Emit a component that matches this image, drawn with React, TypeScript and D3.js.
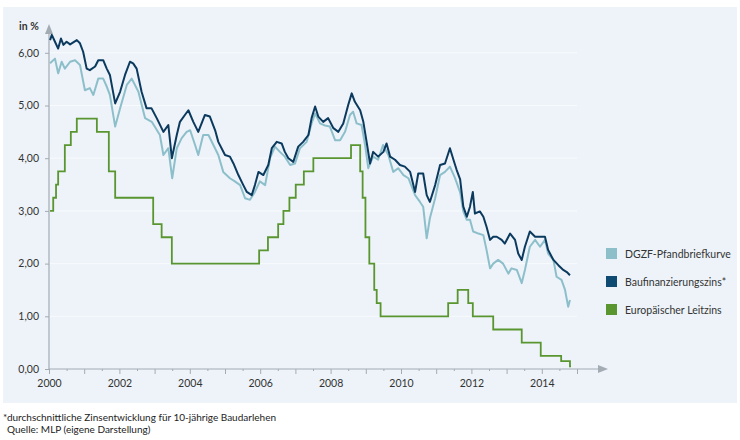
import { useRef, useEffect } from "react";
import * as d3 from "d3";

// Baufinanzierungszins (dark line)
const baufiYears = [
  2000.03, 2000.08, 2000.17, 2000.26, 2000.34, 2000.41, 2000.5, 2000.6, 2000.79, 2000.88, 2000.97,
  2001.07, 2001.16, 2001.31, 2001.4, 2001.54, 2001.64, 2001.73, 2001.88, 2002.02, 2002.16, 2002.3,
  2002.39, 2002.49, 2002.63, 2002.77, 2002.91, 2003.06, 2003.25, 2003.39, 2003.49, 2003.63, 2003.72,
  2003.86, 2003.96, 2004.1, 2004.24, 2004.43, 2004.57, 2004.72, 2004.81, 2005.0, 2005.14, 2005.24,
  2005.38, 2005.52, 2005.62, 2005.76, 2005.85, 2005.95, 2006.09, 2006.23, 2006.33, 2006.47, 2006.61,
  2006.7, 2006.8, 2006.94, 2007.08, 2007.22, 2007.37, 2007.46, 2007.56, 2007.65, 2007.79, 2007.93,
  2008.08, 2008.22, 2008.36, 2008.5, 2008.6, 2008.69, 2008.84, 2008.93, 2009.03, 2009.12, 2009.21,
  2009.35, 2009.5, 2009.59, 2009.69, 2009.83, 2009.97, 2010.11, 2010.26, 2010.4, 2010.49, 2010.63,
  2010.73, 2010.82, 2010.97, 2011.11, 2011.25, 2011.39, 2011.49, 2011.58, 2011.68, 2011.77, 2011.87,
  2011.96, 2012.04, 2012.1, 2012.24, 2012.34, 2012.43, 2012.53, 2012.62, 2012.72, 2012.86, 2012.95,
  2013.1, 2013.24, 2013.33, 2013.43, 2013.52, 2013.66, 2013.81, 2013.95, 2014.09, 2014.18, 2014.33,
  2014.47, 2014.61, 2014.71, 2014.8,
];
const baufiRates = [
  6.24, 6.34, 6.21, 6.08, 6.27, 6.15, 6.21, 6.16, 6.24, 6.18, 6.02,
  5.7, 5.67, 5.74, 5.86, 5.86, 5.7, 5.58, 5.04, 5.26, 5.58, 5.83,
  5.8, 5.7, 5.26, 4.95, 4.95, 4.76, 4.5, 4.63, 4.0, 4.44, 4.69,
  4.82, 4.91, 4.69, 4.5, 4.82, 4.79, 4.53, 4.31, 4.06, 4.03, 3.9,
  3.68, 3.49, 3.36, 3.3, 3.49, 3.74, 3.68, 3.87, 4.19, 4.31, 4.28,
  4.12, 4.0, 3.93, 4.22, 4.31, 4.44, 4.76, 4.98, 4.79, 4.69, 4.76,
  4.57, 4.5, 4.66, 5.01, 5.23, 5.07, 4.91, 4.69, 4.28, 3.9, 4.12,
  4.03, 4.12, 4.28, 4.03, 3.97, 3.87, 3.84, 3.74, 3.36, 3.71, 3.71,
  3.3, 3.17, 3.49, 3.87, 3.9, 4.19, 3.97, 3.78, 3.6, 3.08, 2.89,
  3.08, 3.36, 2.95, 2.99, 2.89, 2.7, 2.45, 2.51, 2.51, 2.45, 2.38,
  2.57, 2.45, 2.19, 2.07, 2.32, 2.61, 2.51, 2.51, 2.51, 2.26, 2.07,
  1.97, 1.88, 1.84, 1.78,
];

// DGZF-Pfandbriefkurve (light line)
const pfandYears = [
  2000.03, 2000.17, 2000.26, 2000.36, 2000.45, 2000.6, 2000.74, 2000.88, 2001.02, 2001.16, 2001.26,
  2001.4, 2001.54, 2001.64, 2001.73, 2001.88, 2002.02, 2002.21, 2002.35, 2002.54, 2002.73, 2002.92,
  2003.15, 2003.25, 2003.39, 2003.5, 2003.63, 2003.77, 2003.91, 2004.01, 2004.15, 2004.24, 2004.38,
  2004.53, 2004.67, 2004.81, 2004.95, 2005.14, 2005.28, 2005.43, 2005.57, 2005.71, 2005.85, 2005.99,
  2006.14, 2006.28, 2006.42, 2006.56, 2006.7, 2006.85, 2006.99, 2007.13, 2007.32, 2007.46, 2007.56,
  2007.7, 2007.84, 2007.98, 2008.13, 2008.27, 2008.41, 2008.55, 2008.64, 2008.74, 2008.88, 2008.98,
  2009.07, 2009.21, 2009.35, 2009.49, 2009.64, 2009.78, 2009.92, 2010.07, 2010.21, 2010.4, 2010.54,
  2010.63, 2010.73, 2010.82, 2010.97, 2011.11, 2011.25, 2011.39, 2011.53, 2011.68, 2011.77, 2011.87,
  2011.96, 2012.05, 2012.2, 2012.34, 2012.43, 2012.53, 2012.62, 2012.76, 2012.9, 2013.05, 2013.14,
  2013.29, 2013.43, 2013.52, 2013.66, 2013.81, 2013.95, 2014.09, 2014.18, 2014.33, 2014.42, 2014.56,
  2014.66, 2014.75, 2014.8,
];
const pfandRates = [
  5.8, 5.89, 5.61, 5.83, 5.7, 5.83, 5.86, 5.77, 5.29, 5.33, 5.2,
  5.51, 5.51, 5.36, 5.2, 4.6, 4.95, 5.39, 5.51, 5.26, 4.76, 4.69,
  4.44, 4.06, 4.19, 3.62, 4.19, 4.38, 4.5, 4.53, 4.25, 4.06, 4.44,
  4.44, 4.25, 4.06, 3.74, 3.62, 3.56, 3.49, 3.24, 3.21, 3.36, 3.56,
  3.49, 4.0, 4.22, 4.12, 4.03, 3.87, 3.9, 4.19, 4.31, 4.66, 4.85,
  4.66, 4.62, 4.6, 4.34, 4.34, 4.5, 4.82, 4.88, 4.66, 4.63, 4.25,
  3.81, 4.03, 3.97, 4.25, 4.06, 3.74, 3.81, 3.68, 3.62, 3.3, 3.17,
  3.08, 2.48, 2.86, 3.24, 3.68, 3.74, 3.84, 3.63, 3.35, 2.99, 2.83,
  2.83, 2.61, 2.57, 2.54, 2.26, 1.91, 2.0, 2.07, 2.0, 1.81, 1.91,
  1.88, 1.63, 1.88, 2.32, 2.45, 2.32, 2.45, 2.19, 2.07, 1.75, 1.69,
  1.5, 1.18, 1.31,
];

// Europäischer Leitzins (step line, value valid from the given year)
const leitzinsYears = [
  2000.03, 2000.12, 2000.2, 2000.26, 2000.45, 2000.62, 2000.79, 2001.36, 2001.7, 2001.88, 2002.96,
  2003.2, 2003.49, 2005.97, 2006.22, 2006.51, 2006.66, 2006.83, 2007.01, 2007.24, 2007.51, 2008.58,
  2008.84, 2008.91, 2008.99, 2009.1, 2009.24, 2009.31, 2009.42, 2011.34, 2011.61, 2011.91, 2012.04,
  2012.62, 2013.43, 2013.97, 2014.55, 2014.8, 2014.83,
];
const leitzinsRates = [
  3.0, 3.25, 3.5, 3.75, 4.25, 4.5, 4.75, 4.5, 3.75, 3.25, 2.75,
  2.5, 2.0, 2.25, 2.5, 2.75, 3.0, 3.25, 3.5, 3.75, 4.0, 4.25,
  3.75, 3.25, 2.5, 2.0, 1.5, 1.25, 1.0, 1.25, 1.5, 1.25, 1.0,
  0.75, 0.5, 0.25, 0.15, 0.05, 0.05,
];

const yTicks = [0, 1, 2, 3, 4, 5, 6];
const xLabelYears = [2000, 2002, 2004, 2006, 2008, 2010, 2012, 2014];
const legendLabels = ["DGZF-Pfandbriefkurve", "Baufinanzierungszins*", "Europäischer Leitzins"];
const legendColors = ["#8dbfcb", "#0e4a72", "#5a9630"];

const FONT = "Lato, 'Open Sans', sans-serif";

function App() {
  const svgRef = useRef<SVGSVGElement>(null);

  useEffect(() => {
    const svg = d3.select(svgRef.current);
    svg.selectAll("*").remove();

    const x = d3.scaleLinear().domain([2000, 2015]).range([49, 577]);
    const y = d3.scaleLinear().domain([0, 6]).range([369, 52.8]);

    // background panel
    svg.append("rect")
      .attr("x", 3).attr("y", 7).attr("width", 734).attr("height", 396)
      .attr("fill", "#edf3f9");

    // faint gridlines
    svg.append("g")
      .selectAll("line")
      .data(yTicks.filter(d => d > 0))
      .enter()
      .append("line")
        .attr("x1", x(2000)).attr("x2", x(2015))
        .attr("y1", d => y(d)).attr("y2", d => y(d))
        .attr("stroke", "#f8fbfd").attr("stroke-width", 1);

    const axisColor = "#a3abb3";

    // y axis
    const yAxis = d3.axisLeft(y)
      .tickValues(yTicks)
      .tickSize(4)
      .tickPadding(6)
      .tickFormat(d => (d as number).toFixed(2).replace(".", ","));
    const gy = svg.append("g").attr("transform", `translate(${x(2000)},0)`).call(yAxis);
    gy.select(".domain").remove();
    gy.selectAll("line").attr("stroke", axisColor);
    gy.selectAll("text")
      .attr("fill", "#333").style("font-family", FONT).style("font-size", "10.5px");

    svg.append("line")
      .attr("x1", x(2000)).attr("x2", x(2000))
      .attr("y1", y(0)).attr("y2", 30)
      .attr("stroke", axisColor).attr("stroke-width", 1.2);
    svg.append("path")
      .attr("d", `M${x(2000) - 4},34 L${x(2000)},24 L${x(2000) + 4},34 Z`)
      .attr("fill", axisColor);

    svg.append("text")
      .attr("x", 19).attr("y", 30)
      .attr("fill", "#333").style("font-family", FONT).style("font-size", "10.5px")
      .style("font-weight", "bold")
      .text("in %");

    // x axis
    const xAxisMinor = d3.axisBottom(x)
      .tickValues(d3.range(2000.5, 2015, 1))
      .tickSize(2)
      .tickFormat(() => "");
    const gxm = svg.append("g").attr("transform", `translate(0,${y(0)})`).call(xAxisMinor);
    gxm.select(".domain").remove();
    gxm.selectAll("line").attr("stroke", axisColor);

    const xAxis = d3.axisBottom(x)
      .tickValues(d3.range(2000, 2016, 1))
      .tickSize(5)
      .tickPadding(6)
      .tickFormat(d => (xLabelYears.includes(d as number) ? String(d) : ""));
    const gx = svg.append("g").attr("transform", `translate(0,${y(0)})`).call(xAxis);
    gx.select(".domain").remove();
    gx.selectAll("line").attr("stroke", axisColor);
    gx.selectAll("text")
      .attr("fill", "#333").style("font-family", FONT).style("font-size", "10.5px");

    svg.append("line")
      .attr("x1", x(2000)).attr("x2", 600)
      .attr("y1", y(0)).attr("y2", y(0))
      .attr("stroke", axisColor).attr("stroke-width", 1.2);
    svg.append("path")
      .attr("d", `M598,${y(0) - 4} L608,${y(0)} L598,${y(0) + 4} Z`)
      .attr("fill", axisColor);

    // series
    const line = d3.line<[number, number]>()
      .x(d => x(d[0]))
      .y(d => y(d[1]));

    const pfand = pfandYears.map((yr, i) => [yr, pfandRates[i]] as [number, number]);
    const baufi = baufiYears.map((yr, i) => [yr, baufiRates[i]] as [number, number]);
    const leitzins = leitzinsYears.map((yr, i) => [yr, leitzinsRates[i]] as [number, number]);

    svg.append("path")
      .attr("d", line(pfand))
      .attr("fill", "none").attr("stroke", legendColors[0])
      .attr("stroke-width", 2).attr("stroke-linejoin", "round");

    svg.append("path")
      .attr("d", line(baufi))
      .attr("fill", "none").attr("stroke", "#0b3a5e")
      .attr("stroke-width", 2).attr("stroke-linejoin", "round");

    svg.append("path")
      .attr("d", line.curve(d3.curveStepAfter)(leitzins))
      .attr("fill", "none").attr("stroke", legendColors[2])
      .attr("stroke-width", 1.8);

    // legend
    const lg = svg.append("g")
      .selectAll("g")
      .data(legendLabels)
      .enter()
      .append("g")
        .attr("transform", (d, i) => `translate(606,${248 + i * 28})`);
    lg.append("rect")
      .attr("width", 11).attr("height", 11)
      .attr("fill", (d, i) => legendColors[i]);
    lg.append("text")
      .attr("x", 19).attr("y", 9.5)
      .attr("fill", "#333").style("font-family", FONT).style("font-size", "10.5px")
      .text(d => d);

    // footnote
    svg.append("text")
      .attr("x", 3).attr("y", 421)
      .attr("fill", "#222").style("font-family", FONT).style("font-size", "10px")
      .text("*durchschnittliche Zinsentwicklung für 10-jährige Baudarlehen");
    svg.append("text")
      .attr("x", 7).attr("y", 433)
      .attr("fill", "#222").style("font-family", FONT).style("font-size", "10px")
      .text("Quelle: MLP (eigene Darstellung)");
  }, []);

  return (
    <div>
      <svg
        ref={svgRef}
        width={740}
        height={440}
        style={{ position: "absolute", left: 0, top: 0, background: "#fff" }}
      />
    </div>
  );
}

export default App;
